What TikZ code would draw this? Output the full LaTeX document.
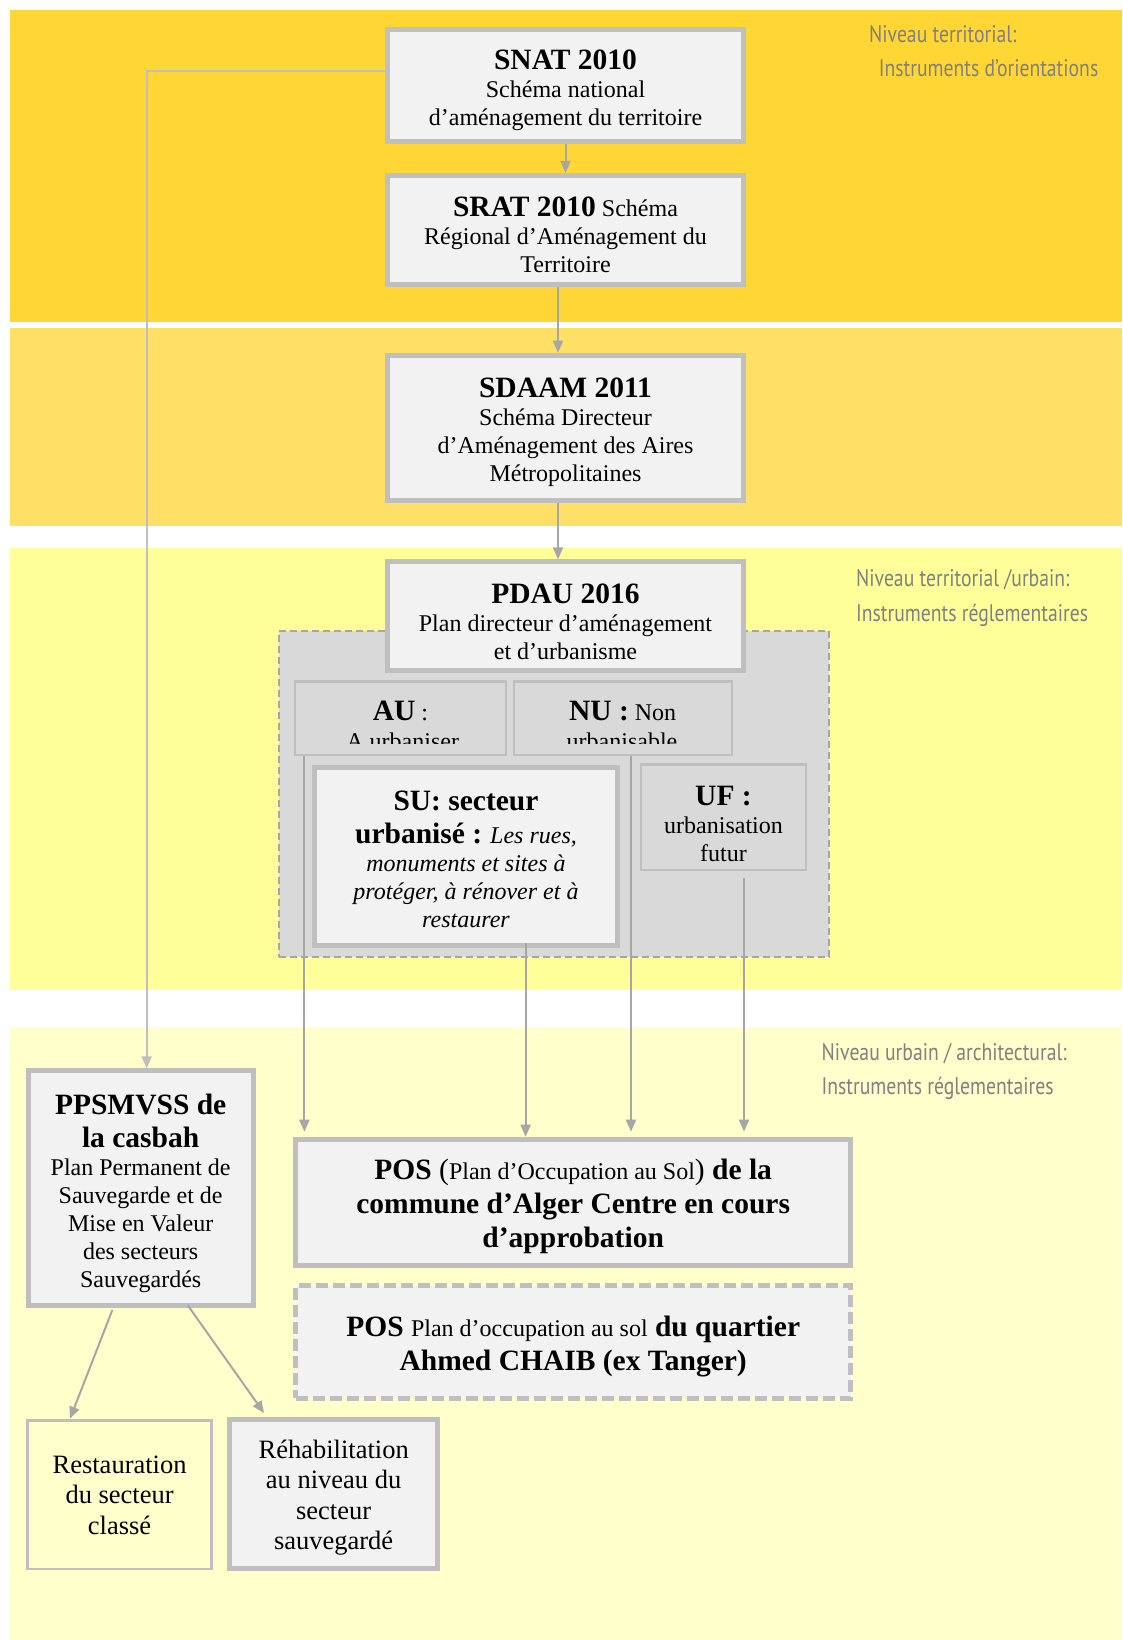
\documentclass[tikz,border=0pt]{standalone}
\usepackage{fontspec}
\setmainfont{Liberation Serif}
\newfontfamily\handfont[FakeStretch=0.82]{PT Sans}
\usetikzlibrary{arrows.meta}

\definecolor{bandA}{HTML}{FFD633}
\definecolor{bandB}{HTML}{FFDF66}
\definecolor{bandC}{HTML}{FFFF99}
\definecolor{bandD}{HTML}{FFFFCC}
\definecolor{boxfill}{HTML}{F2F2F2}
\definecolor{boxline}{HTML}{BFBFBF}
\definecolor{regionfill}{HTML}{D9D9D9}
\definecolor{regionline}{HTML}{A6A6A6}
\definecolor{arrowgray}{HTML}{A6A6A6}
\definecolor{leadgray}{HTML}{BFBFBF}
\definecolor{notegray}{HTML}{808080}

\newcommand\dgTitle{\fontsize{29.5}{34}\selectfont\bfseries}
\newcommand\dgBody{\fontsize{24}{28}\selectfont\mdseries\upshape}
\newcommand\dgParen{\fontsize{29.5}{34}\selectfont\mdseries}
\newcommand\dgLarge{\fontsize{26.5}{30.5}\selectfont}
\newcommand\dgNote{\handfont\fontsize{24}{30}\selectfont}
% invisible strut that lowers a text block inside its box
\newcommand\dgDrop[1]{\rule{0pt}{#1}}

\begin{document}
\begin{tikzpicture}[x=1pt,y=-1pt,
  box/.style={draw=boxline, line width=5pt, fill=boxfill, align=center,
    inner sep=0pt, font=\dgBody},
  thinbox/.style={draw=boxline, line width=2.5pt, fill=regionfill,
    inner sep=0pt, align=center, font=\dgBody},
  dashbox/.style={box, dash pattern=on 12pt off 5pt},
  arr/.style={draw=arrowgray, line width=2pt,
    -{Triangle[width=10pt,length=12pt]}},
  lead/.style={draw=leadgray, line width=2pt,
    -{Triangle[width=10pt,length=12pt]}},
  note/.style={text=notegray, font=\dgNote, anchor=base west, inner sep=0pt},
  cliptext/.style={anchor=base, inner sep=0pt, font=\dgBody}
]
% page and level bands
\fill[white] (0,0) rectangle (1122,1640);
\useasboundingbox (0,0) rectangle (1122,1640);
\fill[bandA] (10,10) rectangle (1122,321.7);
\fill[bandB] (10,328) rectangle (1122,526);
\fill[bandC] (10,548.3) rectangle (1122,990);
\fill[bandD] (10,1026.7) rectangle (1122,1640);

% level notes
\node[note] (noteA1) at (869,43) {Niveau territorial:};
\node[note] (noteA2) at (878.7,77) {Instruments d’orientations};
\node[note] (noteB1) at (856,586.7) {Niveau territorial /urbain:};
\node[note] (noteB2) at (856,621.7) {Instruments réglementaires};
\node[note] (noteC1) at (821.5,1060.7) {Niveau urbain / architectural:};
\node[note] (noteC2) at (821.5,1094) {Instruments réglementaires};

% territorial schemes
\node[box, minimum width=356pt, minimum height=112.3pt] (snat) at (565.5,85.3)
  {{\dgTitle\dgDrop{30pt}SNAT 2010}\\ Schéma national\\ d’aménagement du territoire};
\node[box, minimum width=356pt, minimum height=109pt] (srat) at (565.5,230)
  {{\dgTitle\dgDrop{29pt}SRAT 2010} Schéma\\ Régional d’Aménagement du\\ Territoire};
\node[box, minimum width=356pt, minimum height=145.6pt] (sdaam) at (565.5,428)
  {{\dgTitle\dgDrop{29pt}SDAAM 2011}\\ Schéma Directeur\\ d’Aménagement des Aires\\ Métropolitaines};

% PDAU and its sectors
\node[draw=regionline, fill=regionfill, line width=2.5pt,
  dash pattern=on 7pt off 4pt, minimum width=550pt, minimum height=326pt,
  inner sep=0pt] (region) at (554,794) {};
\node[box, minimum width=356pt, minimum height=109pt] (pdau) at (565.5,616.3)
  {{\dgTitle\dgDrop{30pt}PDAU 2016}\\ Plan directeur d’aménagement\\ et d’urbanisme};
\node[thinbox, minimum width=211pt, minimum height=73.3pt] (au) at (400.5,718.35) {};
\node[thinbox, minimum width=218pt, minimum height=73.3pt] (nu) at (623,718.35) {};
\begin{scope}
  \clip (295,681.7) rectangle (732,743);
  \node[cliptext] (auHead) at (400.5,720) {{\dgTitle AU} :};
  \node[cliptext] (auSub) at (402.7,749) {A urbaniser};
  \node[cliptext] (nuHead) at (622.6,720) {{\dgTitle NU :} Non};
  \node[cliptext] (nuSub) at (622,749) {urbanisable};
\end{scope}
\node[box, minimum width=303pt, minimum height=178.3pt] (su) at (466,856.65)
  {{\dgTitle\dgDrop{25pt}SU: secteur}\\[5pt]
   {\dgTitle urbanisé :} {\itshape Les rues,}\\
   {\itshape monuments et sites à}\\
   {\itshape protéger, à rénover et à}\\
   {\itshape restaurer}};
\node[thinbox, minimum width=165pt, minimum height=105.7pt] (uf) at (723.5,817.15)
  {{\dgTitle\dgDrop{32pt}UF :}\\ urbanisation\\ futur};

% urban / architectural instruments
\node[box, minimum width=224.7pt, minimum height=235pt] (ppsmvss) at (140.65,1188.3)
  {{\dgTitle\dgDrop{30pt}PPSMVSS de}\\[5pt] {\dgTitle la casbah}\\ Plan Permanent de\\
   Sauvegarde et de\\ Mise en Valeur\\ des secteurs\\ Sauvegardés};
\node[box, font=\dgTitle, minimum width=554.6pt, minimum height=125.4pt] (pos) at (573.2,1202.5)
  {\dgDrop{29pt}POS {\dgParen(}{\dgBody Plan d’Occupation au Sol}{\dgParen)} de la\\
   commune d’Alger Centre en cours\\ d’approbation};
\node[dashbox, font=\dgTitle, minimum width=554.6pt, minimum height=112.4pt] (posb) at (573.2,1342)
  {\dgDrop{30pt}POS {\dgBody Plan d’occupation au sol} du quartier\\ Ahmed CHAIB (ex Tanger)};
\node[thinbox, fill=bandD, font=\dgLarge, minimum width=184pt, minimum height=148.3pt]
  (resto) at (119.6,1494.85) {Restauration\\ du secteur\\ classé};
\node[box, font=\dgLarge, minimum width=207.7pt, minimum height=149.3pt]
  (rehab) at (333.65,1493.85) {\dgDrop{26pt}Réhabilitation\\ au niveau du\\ secteur\\ sauvegardé};

% connectors
\draw[arr] (snat.south) -- (srat.north);
\draw[arr] ([xshift=-7.5pt]srat.south) -- ([xshift=-7.5pt]sdaam.north);
\draw[arr] ([xshift=-7.5pt]sdaam.south) -- ([xshift=-7.5pt]pdau.north);
\draw[lead] ([yshift=14.3pt]snat.west) -| ([xshift=6pt]ppsmvss.north);
\draw[arr] ([xshift=-96.1pt]au.south) -- ([xshift=-96.1pt,yshift=5.6pt]au.south |- pos.north);
\draw[arr] ([xshift=59.6pt,yshift=5.6pt]su.south) -- ([xshift=59.6pt,yshift=0.6pt]su.south |- pos.north);
\draw[arr] ([xshift=8pt]nu.south) -- ([xshift=8pt,yshift=5.6pt]nu.south |- pos.north);
\draw[arr] ([xshift=20.5pt,yshift=-6.7pt]uf.south) -- ([xshift=20.5pt,yshift=5.6pt]uf.south |- pos.north);
\draw[arr] ([xshift=-28.3pt,yshift=-1.7pt]ppsmvss.south) -- ([xshift=-49.6pt,yshift=0.7pt]resto.north);
\draw[arr] ([xshift=46.9pt,yshift=3.3pt]ppsmvss.south) -- ([xshift=-69.6pt,yshift=3.7pt]rehab.north);
\end{tikzpicture}
\end{document}
